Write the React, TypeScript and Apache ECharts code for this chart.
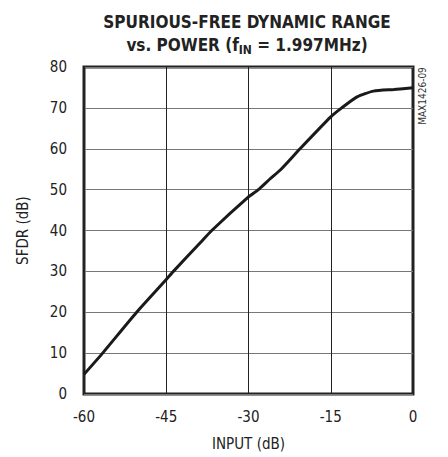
import React, { useEffect, useRef } from "react";
import * as echarts from "echarts";

const inputDb = [-60, -56.6, -50.4, -45, -43.7, -38.8, -36.7, -30, -28.2, -26.1, -24.2, -20.6, -15, -13, -10.2, -7.2, -3.5, 0];
const sfdrDb = [4.8, 10, 20, 28, 30, 37, 40, 48.2, 50, 52.6, 54.8, 60, 67.8, 70, 72.7, 74.1, 74.5, 74.9];
const xTicks = [-60, -45, -30, -15, 0];
const yTicks = [0, 10, 20, 30, 40, 50, 60, 70, 80];
const titleLine1 = "SPURIOUS-FREE DYNAMIC RANGE";
const titleLine2a = "vs. POWER (f";
const titleSub = "IN";
const titleLine2b = " = 1.997MHz)";
const xName = "INPUT (dB)";
const yName = "SFDR (dB)";
const watermark = "MAX1426-09";

const NARROW = '"Liberation Sans Narrow", "Arial Narrow", "DejaVu Sans Condensed", sans-serif';

export default function App() {
  const ref = useRef<HTMLDivElement>(null);
  useEffect(() => {
    const chart = echarts.init(ref.current!, undefined, { renderer: "svg" });
    const data = inputDb.map((x, i) => [x, sfdrDb[i]]);
    chart.setOption({
      animation: false,
      backgroundColor: "#ffffff",
      title: {
        text: `{t|${titleLine1}}\n{t|${titleLine2a}}{s|${titleSub}}{t|${titleLine2b}}`,
        left: 242,
        top: 5,
        textAlign: "center",
        textStyle: {
          rich: {
            t: { fontFamily: NARROW, fontWeight: "bold", fontSize: 17, color: "#222", lineHeight: 23 },
            s: { fontFamily: NARROW, fontWeight: "bold", fontSize: 12, color: "#222", lineHeight: 23, verticalAlign: "bottom", padding: [7, 0, 0, 0] },
          },
        },
      },
      grid: {
        left: 84,
        right: 35,
        top: 67,
        bottom: 63,
        show: true,
        borderColor: "#222",
        borderWidth: 3,
        backgroundColor: "transparent",
      },
      xAxis: {
        type: "value",
        min: -60,
        max: 0,
        interval: 15,
        name: xName,
        nameLocation: "middle",
        nameGap: 42,
        nameTextStyle: { fontFamily: NARROW, fontSize: 15, color: "#222" },
        axisLine: { show: false },
        axisTick: { show: false },
        axisLabel: {
          fontFamily: NARROW,
          fontSize: 15,
          color: "#222",
          margin: 15,
          customValues: xTicks,
        },
        splitLine: { show: true, lineStyle: { color: "#222", width: 1 } },
      },
      yAxis: {
        type: "value",
        min: 0,
        max: 80,
        interval: 10,
        name: yName,
        nameLocation: "middle",
        nameGap: 54,
        nameTextStyle: { fontFamily: NARROW, fontSize: 15, color: "#222" },
        axisLine: { show: false },
        axisTick: { show: false },
        axisLabel: {
          fontFamily: NARROW,
          fontSize: 15,
          color: "#222",
          margin: 17,
          customValues: yTicks,
        },
        splitLine: { show: true, lineStyle: { color: "#777", width: 1.2 } },
      },
      series: [
        {
          type: "line",
          data,
          showSymbol: false,
          smooth: 0.2,
          lineStyle: { color: "#1a1a1a", width: 3 },
        },
      ],
      graphic: [
        {
          type: "text",
          x: 422,
          y: 96,
          rotation: Math.PI / 2,
          style: {
            text: watermark,
            fontFamily: NARROW,
            fontSize: 10,
            fill: "#333",
            align: "center",
            verticalAlign: "middle",
          },
        },
      ],
    });
    return () => chart.dispose();
  }, []);
  return <div ref={ref} style={{ width: 448, height: 457, position: "absolute", left: 0, top: 0 }} />;
}
